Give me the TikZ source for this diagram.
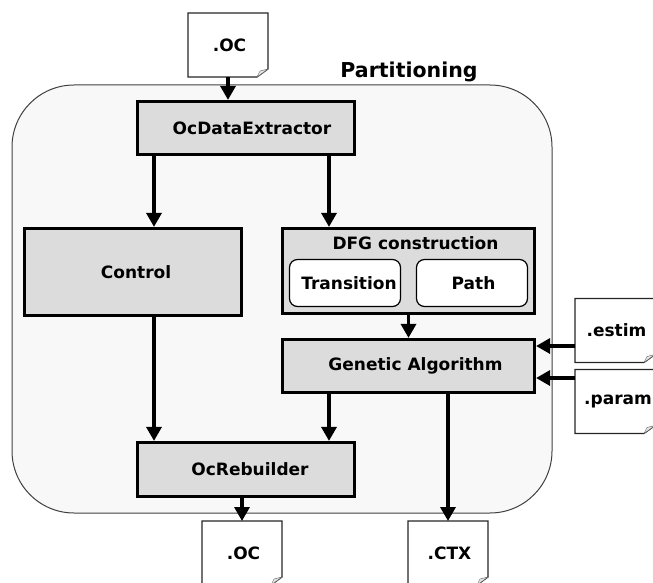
\documentclass[tikz,border=0pt]{standalone}
\usepackage{fontspec}
\setmainfont{DejaVu Sans}
\usetikzlibrary{arrows.meta}
\definecolor{blockgray}{HTML}{DCDCDC}
\definecolor{panelgray}{HTML}{F8F8F8}
\tikzset{
    block/.style={draw,line width=3.2pt,fill=blockgray,font=\fontsize{17}{20}\selectfont\bfseries,inner sep=0pt},
    inner block/.style={draw,line width=1.2pt,fill=white,rounded corners=8pt,minimum width=111pt,minimum height=47pt,font=\fontsize{17}{20}\selectfont\bfseries,inner sep=0pt},
    docbox/.style={fill=white,minimum width=80pt,minimum height=64pt,inner sep=0pt,outer sep=0pt,font=\fontsize{17}{20}\selectfont\bfseries},
    conn/.style={->,line width=3.3pt},
}
\newcommand{\docfile}[4]{
    \node [docbox] (#1) at (#2,#3) {#4};
    \draw [line width=1.2pt,black!85] ([xshift=-11pt]#1.south east) -- (#1.south west) -- (#1.north west)
        -- (#1.north east) -- ([yshift=8pt]#1.south east) -- cycle;
    \draw [black!60,fill=black!10] ([xshift=-11pt]#1.south east) -- ([xshift=-8pt,yshift=6pt]#1.south east)
        -- ([yshift=8pt]#1.south east) -- cycle;
}

\begin{document}
\begin{tikzpicture}[x=1pt,y=-1pt,>={Triangle[length=14pt,width=15pt]}]
    \useasboundingbox (0,0) rectangle (653,583);
    \clip (0,0) rectangle (653,583);

    \node [draw=black!75,line width=1pt,fill=panelgray,rounded corners=62pt,minimum width=540pt,minimum height=428pt,inner sep=0pt,outer sep=0pt] (panel) at (282,299) {};
    \node [font=\fontsize{20.5}{24}\selectfont\bfseries] (title) at (409,72) {Partitioning};

    \node [block,minimum width=217pt,minimum height=53pt] (extractor) at (246,128) {\hspace*{12pt}OcDataExtractor};
    \node [block,minimum width=217pt,minimum height=87pt] (control) at (133,272) {\hspace*{6pt}Control};
    \node [block,minimum width=252pt,minimum height=85pt] (dfg) at (408.5,271) {};
    \node [font=\fontsize{17}{20}\selectfont\bfseries] (dfgtitle) at (415.5,243) {DFG construction};
    \node [inner block] (transition) at (345,283) {\hspace*{8pt}Transition};
    \node [inner block] (path) at (472,283) {\hspace*{3pt}Path};
    \node [block,minimum width=252pt,minimum height=53pt] (genetic) at (408.5,366) {\hspace*{14pt}Genetic Algorithm};
    \node [block,minimum width=217pt,minimum height=54pt] (rebuilder) at (246,469.5) {\hspace*{8pt}OcRebuilder};

    \docfile{ocin}{228}{45}{\hspace*{3pt}.OC}
    \docfile{estim}{615}{330.5}{\hspace*{3pt}.estim}
    \docfile{param}{615}{401.5}{\hspace*{6pt}.param}
    \docfile{ocout}{242}{553}{\hspace*{3pt}.OC}
    \docfile{ctx}{448}{553}{\hspace*{3pt}.CTX}

    \draw [conn] (ocin.south) -- ([xshift=-18pt]extractor.north);
    \draw [conn] ([xshift=-92pt]extractor.south) -- ([xshift=21pt]control.north);
    \draw [conn] ([xshift=83pt]extractor.south) -- ([xshift=-79.5pt]dfg.north);
    \draw [conn] ([xshift=21pt]control.south) -- ([xshift=-92pt]rebuilder.north);
    \draw [conn] (dfg.south) -- (genetic.north);
    \draw [conn] ([xshift=-79.5pt]genetic.south) -- ([xshift=83pt]rebuilder.north);
    \draw [conn] ([xshift=39.5pt]genetic.south) -- (ctx.north);
    \draw [conn] ([xshift=-4pt]rebuilder.south) -- (ocout.north);
    \draw [conn] ([yshift=-15.5pt]estim.west) -- ([yshift=20pt]genetic.east);
    \draw [conn] ([yshift=23.5pt]param.west) -- ([yshift=-12pt]genetic.east);
\end{tikzpicture}
\end{document}
